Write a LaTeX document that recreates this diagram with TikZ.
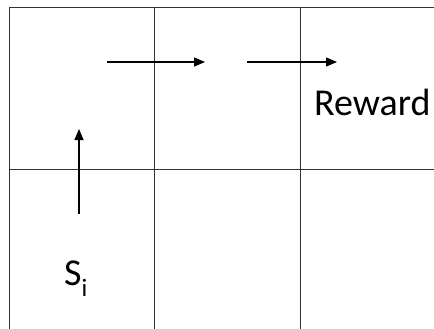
\documentclass[tikz,border=0pt]{standalone}
\usepackage{fontspec}
\setmainfont{Carlito}
\usetikzlibrary{arrows.meta}
\begin{document}
\begin{tikzpicture}[x=1pt,y=-1pt,
  gridline/.style={draw=black!80,line width=1pt},
  move/.style={draw=black,line width=1.5pt,-{Triangle[length=11pt,width=9pt]}},
  label/.style={inner sep=0pt,anchor=base west,font=\fontsize{38}{42}\selectfont}]
  \useasboundingbox[fill=white] (0,0) rectangle (434,329);
  % grid of cells, open on the right and at the bottom
  \draw[gridline] (434,8) -- (9,8) -- (9,329);
  \draw[gridline] (9,169) -- (434,169);
  \draw[gridline] (154.5,8) -- (154.5,329);
  \draw[gridline] (300,8) -- (300,329);
  % path of moves
  \coordinate (u0) at (79,214);
  \coordinate (u1) at (79,129);
  \coordinate (r0) at (107,62);
  \coordinate (r1) at (205,62);
  \coordinate (q0) at (247,62);
  \coordinate (q1) at (337,62);
  \draw[move] (u0) -- (u1);
  \draw[move] (r0) -- (r1);
  \draw[move] (q0) -- (q1);
  % labels
  \node[label] (reward) at (314,116) {Reward};
  \node[label] (start) at (64,285) {S\raisebox{-11pt}{\fontsize{25}{25}\selectfont i}};
\end{tikzpicture}
\end{document}
